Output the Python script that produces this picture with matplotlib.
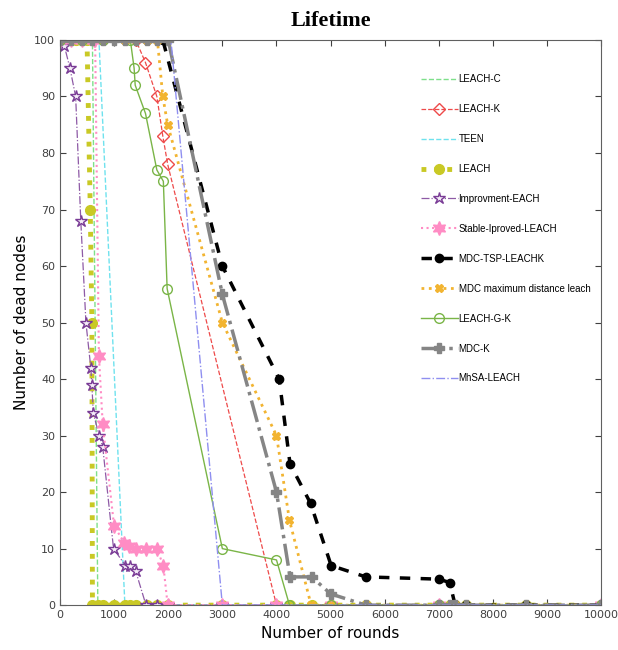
import matplotlib.pyplot as plt

# rounds (x) and dead-node values (y) for each protocol
leach_c_x = [0, 600, 700, 10000]
leach_c_y = [100, 100, 0, 0]

leach_k_x = [0, 200, 400, 600, 800, 1000, 1200, 1400, 1580, 1790, 1900, 1990, 4000, 4650, 5000, 5650, 7000, 7300, 10000]
leach_k_y = [100, 100, 100, 100, 100, 100, 100, 100, 96, 90, 83, 78, 0, 0, 0, 0, 0, 0, 0]

teen_x = [0, 720, 1200, 10000]
teen_y = [100, 100, 0, 0]

leach_x = [0, 100, 200, 300, 400, 500, 560, 590, 600, 700, 800, 1000, 1200, 1300, 1400, 1600, 1800, 2000,
           3000, 4000, 4250, 4650, 5000, 5650, 7000, 7200, 7300, 7500, 8600, 10000]
leach_y = [100, 100, 100, 100, 100, 100, 70, 50, 0, 0, 0, 0, 0, 0, 0, 0, 0, 0,
           0, 0, 0, 0, 0, 0, 0, 0, 0, 0, 0, 0]

improv_x = [0, 80, 185, 290, 385, 480, 570, 590, 615, 725, 790, 990, 1210, 1290, 1400, 1590, 1800, 2000, 3000, 4000, 5000, 7000, 10000]
improv_y = [100, 99, 95, 90, 68, 50, 42, 39, 34, 30, 28, 10, 7, 7, 6, 0, 0, 0, 0, 0, 0, 0, 0]

stable_x = [0, 200, 400, 620, 650, 720, 790, 1000, 1190, 1280, 1400, 1590, 1790, 1910, 1990, 3000, 4000, 5000, 7000, 10000]
stable_y = [100, 100, 100, 100, 100, 44, 32, 14, 11, 10.5, 10, 10, 10, 7, 0, 0, 0, 0, 0, 0]

tsp_x = [0, 400, 800, 1200, 1600, 1900, 3000, 4050, 4250, 4630, 5010, 5650, 7000, 7200, 7300, 7500, 8600, 10000]
tsp_y = [100, 100, 100, 100, 100, 100, 60, 40, 25, 18, 7, 5, 4.6, 4, 0, 0, 0, 0]

mdc_max_x = [0, 400, 800, 1200, 1600, 1800, 1900, 1990, 3000, 4000, 4240, 4640, 5000, 5650, 7000, 7300, 10000]
mdc_max_y = [100, 100, 100, 100, 100, 100, 90, 85, 50, 30, 15, 0, 0, 0, 0, 0, 0]

leach_gk_x = [0, 400, 800, 1300, 1370, 1390, 1580, 1790, 1910, 1980, 3000, 4000, 4240, 5000, 7000, 10000]
leach_gk_y = [100, 100, 100, 100, 95, 92, 87, 77, 75, 56, 10, 8, 0, 0, 0, 0]

mdc_k_x = [0, 200, 400, 600, 800, 1000, 1200, 1400, 1600, 1800, 2000, 3000, 4000, 4250, 4650, 5000, 5650,
           7000, 7200, 7300, 7500, 8600, 10000]
mdc_k_y = [100, 100, 100, 100, 100, 100, 100, 100, 100, 100, 100, 55, 20, 5, 5, 2, 0,
           0, 0, 0, 0, 0, 0]

mhsa_x = [0, 2050, 3000, 10000]
mhsa_y = [100, 100, 0, 0]

fig = plt.figure(figsize=(6.18, 6.5), dpi=100)
ax = fig.add_axes([0.097, 0.069, 0.876, 0.8695])

ax.plot(leach_c_x, leach_c_y, '--', color='#7ee08a', lw=1, label='LEACH-C')
ax.plot(leach_k_x, leach_k_y, '--', color='#ee4a4a', lw=0.9, marker='D', ms=6, mfc='none',
        markevery=[7, 8, 9, 10, 11], label='LEACH-K')
ax.plot(teen_x, teen_y, '--', color='#6fe2ee', lw=1, label='TEEN')
ax.plot(leach_x, leach_y, ':', color='#c9c925', lw=3.5, marker='o', ms=7, label='LEACH')
ax.plot(improv_x, improv_y, '-.', color='#8e5aa6', lw=0.9, marker='*', ms=9, mfc='#f4ecf7',
        mec='#7a3c96', label='Improvment-EACH')
ax.plot(stable_x, stable_y, ':', color='#ff8cc4', lw=1.5, marker=(6, 1, 0), ms=10,
        mfc='#ff8cc4', mec='#ff8cc4', label='Stable-Iproved-LEACH')
ax.plot(tsp_x, tsp_y, '--', color='black', lw=2.5, marker='o', ms=6, dashes=(3, 3), label='MDC-TSP-LEACHK')
ax.plot(mdc_max_x, mdc_max_y, ':', color='#f2b431', lw=2, marker='X', ms=6,
        label='MDC maximum distance leach')
ax.plot(leach_gk_x, leach_gk_y, '-', color='#7ab547', lw=1, marker='o', ms=7, mfc='none',
        label='LEACH-G-K')
ax.plot(mdc_k_x, mdc_k_y, '-.', color='#858585', lw=2.5, marker='P', ms=7, label='MDC-K')
ax.plot(mhsa_x, mhsa_y, '-.', color='#8f8ff0', lw=1, label='MhSA-LEACH')

ax.set_xlim(0, 10000)
ax.set_ylim(0, 100)
ax.set_xticks(range(0, 10001, 1000))
ax.set_yticks(range(0, 101, 10))
ax.tick_params(direction='in', top=True, right=True, labelsize=8, colors='#404040', length=4)
for s in ax.spines.values():
    s.set_color('#606060')

ax.set_xlabel('Number of rounds', fontsize=11)
ax.set_ylabel('Number of dead nodes', fontsize=11)
ax.set_title('Lifetime', fontsize=16, fontweight='bold', family='Liberation Serif', pad=10)

ax.legend(loc='upper left', bbox_to_anchor=(0.65, 0.955), frameon=False,
          labelspacing=2.05, handlelength=3.8, handletextpad=0.1, prop={'family': 'Liberation Sans', 'size': 7})

plt.savefig('out.png', dpi=100)
